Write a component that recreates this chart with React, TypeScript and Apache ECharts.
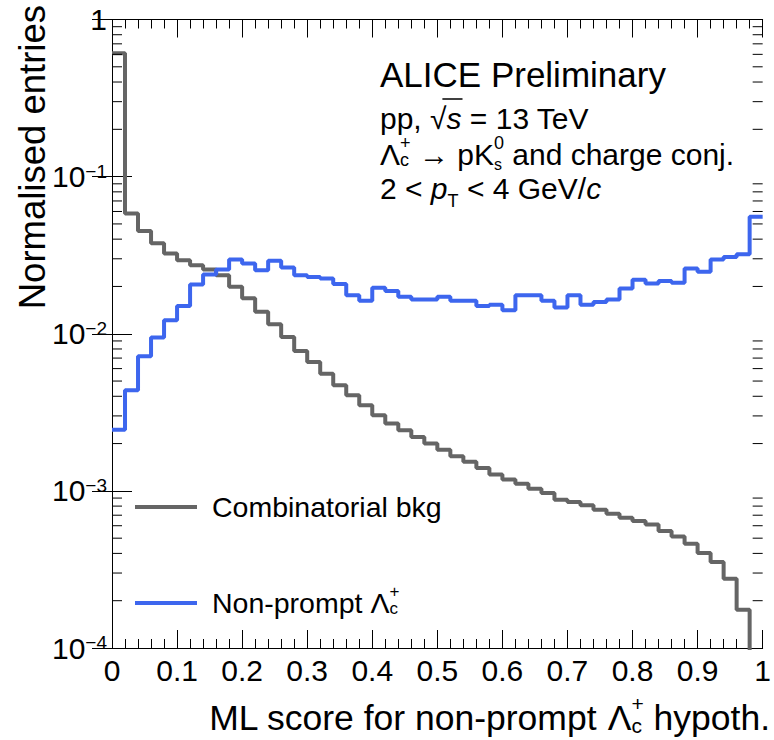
import { useEffect, useRef } from 'react';
import * as echarts from 'echarts';

// Histogram binning of the ML score (50 bins on [0, 1])
const BIN_WIDTH = 0.02;

// Normalised entries per bin, combinatorial background
const COMBINATORIAL = [
  0.609, 0.0583, 0.045, 0.0376, 0.0324, 0.0294, 0.0273, 0.0256, 0.0236, 0.0199,
  0.0168, 0.0138, 0.0115, 0.00955, 0.00777, 0.00661, 0.00557, 0.0047, 0.00406, 0.00351,
  0.00303, 0.00268, 0.00243, 0.0022, 0.002, 0.00183, 0.00166, 0.00153, 0.0014, 0.00127,
  0.00118, 0.00111, 0.00103, 0.000968, 0.000879, 0.000849, 0.000809, 0.000759, 0.000716, 0.000675,
  0.000643, 0.000612, 0.000555, 0.000513, 0.000461, 0.000402, 0.000352, 0.000276, 0.000175, 0.00003,
];

// Normalised entries per bin, non-prompt Lambda_c
const NON_PROMPT = [
  0.00245, 0.00437, 0.00719, 0.00946, 0.0122, 0.015, 0.0206, 0.0238, 0.0256, 0.0297,
  0.028, 0.0254, 0.0291, 0.0264, 0.0236, 0.023, 0.0225, 0.0207, 0.0176, 0.0162,
  0.0196, 0.0187, 0.0172, 0.0165, 0.0165, 0.0172, 0.0162, 0.0162, 0.015, 0.0153,
  0.0141, 0.0176, 0.0176, 0.0162, 0.0147, 0.0176, 0.0153, 0.0159, 0.0165, 0.0194,
  0.0221, 0.0209, 0.0217, 0.0211, 0.026, 0.0248, 0.0297, 0.0308, 0.0321, 0.0555,
];

// Decades shown on the log y axis and the minor tick multipliers inside each
const Y_DECADES = [1e-4, 1e-3, 1e-2, 1e-1];
const Y_MINOR_STEPS = [2, 3, 4, 5, 6, 7, 8, 9];

const COLOR_BKG = '#656565';
const COLOR_SIG = '#3d66ee';
const FONT = '"Liberation Sans", Arial, Helvetica, sans-serif';

let measureCtx: CanvasRenderingContext2D | null = null;
function textWidth(t: string, size: number, italic = false): number {
  if (!measureCtx) measureCtx = document.createElement('canvas').getContext('2d');
  measureCtx!.font = `${italic ? 'italic ' : ''}${size}px ${FONT}`;
  return measureCtx!.measureText(t).width;
}

type Seg = { t: string; size: number; dy?: number; italic?: boolean; stack?: boolean };

// Places text runs left to right; a "stack" run shares the x of the previous run
function layout(segs: Seg[]) {
  let x = 0;
  let prevStart = 0;
  let prevW = 0;
  const pos: { x: number; w: number }[] = [];
  for (const s of segs) {
    const w = textWidth(s.t, s.size, s.italic);
    if (s.stack) {
      pos.push({ x: prevStart, w });
      const adv = Math.max(prevW, w);
      x = prevStart + adv;
      prevW = adv;
    } else {
      pos.push({ x, w });
      prevStart = x;
      prevW = w;
      x += w;
    }
  }
  return { pos, width: x };
}

function runs(x0: number, y: number, segs: Seg[], align: 'left' | 'right' = 'left') {
  const { pos, width } = layout(segs);
  const start = align === 'right' ? x0 - width : x0;
  const els: any[] = segs.map((s, i) => ({
    type: 'text',
    x: start + pos[i].x,
    y: y + (s.dy || 0),
    style: {
      text: s.t,
      font: `${s.italic ? 'italic ' : ''}${s.size}px ${FONT}`,
      fill: '#000',
      align: 'left',
      verticalAlign: 'middle',
    },
  }));
  return { els, pos: pos.map((p) => ({ x: start + p.x, w: p.w })), width };
}

function lambdaC(base: number, sub: number, up = 0.42): Seg[] {
  return [
    { t: 'Λ', size: base },
    { t: '+', size: sub, dy: -base * up },
    { t: 'c', size: sub, dy: base * 0.2, stack: true },
  ];
}

export default function App() {
  const ref = useRef<HTMLDivElement>(null);

  useEffect(() => {
    if (!ref.current) return;
    const chart = echarts.init(ref.current, undefined, { renderer: 'svg' });

    const edges = COMBINATORIAL.map((_, i) => i * BIN_WIDTH);
    const stepData = (vals: number[]) => [
      ...vals.map((v, i) => [edges[i], v]),
      [vals.length * BIN_WIDTH, vals[vals.length - 1]],
    ];

    const minorValues: number[][] = [];
    Y_DECADES.forEach((d) => Y_MINOR_STEPS.forEach((k) => minorValues.push([0, k * d])));

    const graphics: any[] = [];

    // y axis title
    graphics.push({
      type: 'text',
      x: 32,
      y: 5,
      rotation: Math.PI / 2,
      style: {
        text: 'Normalised entries',
        font: `36.5px ${FONT}`,
        fill: '#000',
        align: 'right',
        verticalAlign: 'middle',
      },
    });

    // x axis title
    graphics.push(
      ...runs(
        770,
        718,
        [
          { t: 'ML score for non-prompt ', size: 35.5 },
          ...lambdaC(35.5, 21),
          { t: ' hypoth.', size: 35.5 },
        ],
        'right'
      ).els
    );

    // Header text block
    graphics.push(...runs(380, 74, [{ t: 'ALICE Preliminary', size: 35 }]).els);

    const ppY = 118;
    const pp = runs(380, ppY, [
      { t: 'pp, ', size: 30 },
      { t: '√', size: 30 },
      { t: 's', size: 30, italic: true },
      { t: ' = 13 TeV', size: 30 },
    ]);
    graphics.push(...pp.els);
    graphics.push({
      type: 'line',
      shape: {
        x1: pp.pos[1].x + pp.pos[1].w * 0.75,
        y1: ppY - 19,
        x2: pp.pos[2].x + pp.pos[2].w + 1,
        y2: ppY - 19,
      },
      style: { stroke: '#000', lineWidth: 1.5 },
    });

    graphics.push(
      ...runs(380, 154, [
        ...lambdaC(30, 18, 0.37),
        { t: ' → pK', size: 30 },
        { t: '0', size: 18, dy: -11 },
        { t: 's', size: 16, dy: 10, stack: true },
        { t: ' and charge conj.', size: 30 },
      ]).els
    );

    graphics.push(
      ...runs(380, 188, [
        { t: '2 < ', size: 30 },
        { t: 'p', size: 30, italic: true },
        { t: 'T', size: 18, dy: 13 },
        { t: ' < 4 GeV/', size: 30 },
        { t: 'c', size: 30, italic: true },
      ]).els
    );

    // Legend
    const legendRows = [
      { color: COLOR_BKG, y: 507, segs: [{ t: 'Combinatorial bkg', size: 28.5 }] as Seg[] },
      {
        color: COLOR_SIG,
        y: 603,
        segs: [{ t: 'Non-prompt ', size: 28.5 }, ...lambdaC(28.5, 17)] as Seg[],
      },
    ];
    legendRows.forEach((row) => {
      graphics.push({
        type: 'line',
        shape: { x1: 135, y1: row.y, x2: 197, y2: row.y },
        style: { stroke: row.color, lineWidth: 4 },
      });
      graphics.push(...runs(212, row.y, row.segs).els);
    });

    const xAxisBase = {
      type: 'value',
      min: 0,
      max: 1,
      interval: 0.1,
      splitLine: { show: false },
      axisLine: { show: true, lineStyle: { color: '#000', width: 1 } },
      axisTick: { show: true, inside: true, length: 18, lineStyle: { color: '#000' } },
      minorTick: { show: true, splitNumber: 5, length: 9, lineStyle: { color: '#000' } },
    };
    const yAxisBase = {
      type: 'log',
      logBase: 10,
      min: 1e-4,
      max: 1,
      splitLine: { show: false },
      axisLine: { show: true, lineStyle: { color: '#000', width: 1 } },
      axisTick: { show: true, inside: true, length: 20, lineStyle: { color: '#000' } },
    };

    chart.setOption({
      animation: false,
      backgroundColor: '#fff',
      grid: { left: 112, right: 7, top: 19.5, bottom: 92, containLabel: false },
      xAxis: [
        {
          ...xAxisBase,
          position: 'bottom',
          axisLabel: {
            show: true,
            fontSize: 30,
            fontFamily: FONT,
            color: '#000',
            margin: 7,
            formatter: (v: number) => String(Math.round(v * 10) / 10),
          },
        },
        { ...xAxisBase, position: 'top', axisLabel: { show: false } },
      ],
      yAxis: [
        {
          ...yAxisBase,
          position: 'left',
          axisLabel: {
            show: true,
            margin: 5,
            fontSize: 30,
            fontFamily: FONT,
            color: '#000',
            formatter: (v: number) => {
              const e = Math.round(Math.log10(v));
              return e === 0 ? '{b|1}' : `{b|10}{s|−${-e}}`;
            },
            rich: {
              b: { fontSize: 30, fontFamily: FONT, color: '#000' },
              s: { fontSize: 19, fontFamily: FONT, color: '#000', verticalAlign: 'top' },
            },
          },
        },
        { ...yAxisBase, position: 'right', axisLabel: { show: false } },
      ],
      series: [
        {
          type: 'line',
          name: 'Combinatorial bkg',
          data: stepData(COMBINATORIAL),
          step: 'end',
          showSymbol: false,
          clip: true,
          lineStyle: { color: COLOR_BKG, width: 4 },
          itemStyle: { color: COLOR_BKG },
          z: 2,
        },
        {
          type: 'line',
          name: 'Non-prompt',
          data: stepData(NON_PROMPT),
          step: 'end',
          showSymbol: false,
          clip: true,
          lineStyle: { color: COLOR_SIG, width: 4 },
          itemStyle: { color: COLOR_SIG },
          z: 3,
        },
        {
          // minor ticks of the log axes at 2..9 x each decade, left and right
          type: 'custom',
          silent: true,
          clip: false,
          data: minorValues,
          z: 4,
          renderItem: (_params: any, api: any) => {
            const v = api.value(1);
            const l = api.coord([0, v]);
            const r = api.coord([1, v]);
            return {
              type: 'group',
              children: [
                {
                  type: 'line',
                  shape: { x1: l[0], y1: l[1], x2: l[0] + 10, y2: l[1] },
                  style: { stroke: '#000', lineWidth: 1 },
                },
                {
                  type: 'line',
                  shape: { x1: r[0] - 10, y1: r[1], x2: r[0], y2: r[1] },
                  style: { stroke: '#000', lineWidth: 1 },
                },
              ],
            };
          },
        },
      ],
      graphic: graphics,
    });

    return () => chart.dispose();
  }, []);

  return (
    <div
      ref={ref}
      style={{ position: 'fixed', left: 0, top: 0, width: 774, height: 740, background: '#fff' }}
    />
  );
}
